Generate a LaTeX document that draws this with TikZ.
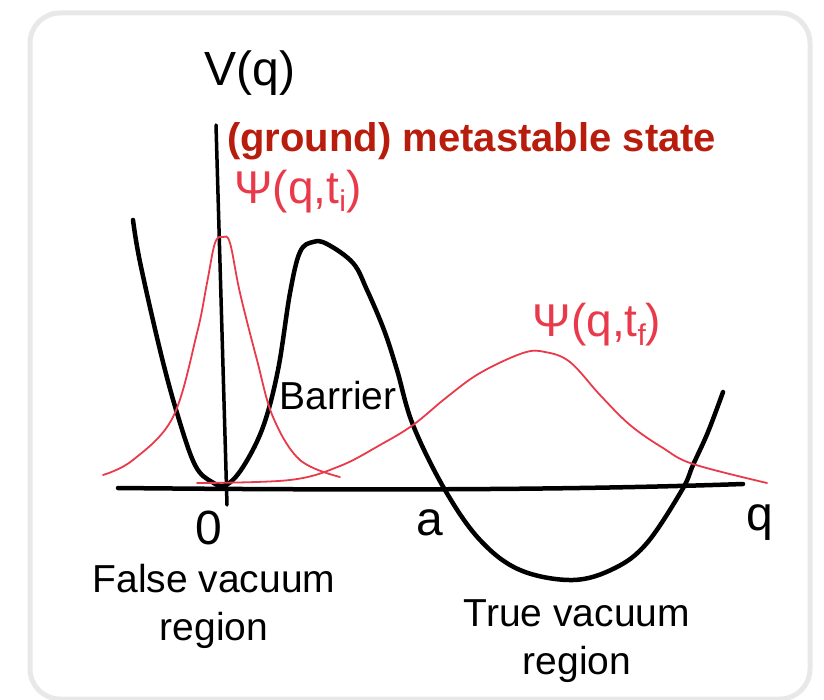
\documentclass[tikz,border=0pt]{standalone}
\usepackage{fontspec}
\setmainfont{Liberation Sans}
\definecolor{labelred}{RGB}{183,28,12}
\definecolor{psired}{RGB}{232,58,74}
\definecolor{framegray}{RGB}{232,232,232}
\begin{document}
\begin{tikzpicture}[x=1pt,y=-1pt,
  hand/.style={font=\fontsize{48}{52}\selectfont, inner sep=0pt},
  psilabel/.style={font=\fontsize{46}{50}\selectfont, text=psired, inner sep=0pt},
  plain/.style={font=\fontsize{39}{48}\selectfont, inner sep=0pt, align=center},
  potential/.style={line width=4.5pt, line cap=round, line join=round},
  wave/.style={psired, line width=1.8pt, line cap=round}]
\useasboundingbox (0,0) rectangle (824,700);
\draw[framegray, line width=5pt, rounded corners=30pt] (30,13) rectangle (810,699);

% axes
\coordinate (xl) at (118,488);
\coordinate (xr) at (743,484);
\coordinate (yt) at (216,125);
\coordinate (yb) at (227,505);
\draw[line width=4.5pt, line cap=round] (xl) .. controls (420,491) and (600,489) .. (xr);
\draw[line width=3.5pt, line cap=round] (yt) -- (yb);

% potential
\draw[potential] plot[smooth, tension=0.6] coordinates {
 (133,220) (140,262) (160,350) (177,413) (195,465) (212,482) (226,485)
 (243,467) (263,427) (278,370) (290,293) (300,252) (313,242) (327,244)
 (353,263) (367,290) (384,330) (397,370) (413,425) (445,490) (480,540)
 (520,570) (573,580) (615,568) (647,543) (682,490) (693,465) (708,432) (723,392)};

% wave functions
\draw[wave] plot[smooth, tension=0.6] coordinates {
 (103,475) (133,460) (173,417) (197,333) (207,283) (215,243) (223,237)
 (230,243) (240,293) (257,360) (273,417) (300,460) (340,477)};
\draw[wave] plot[smooth, tension=0.6] coordinates {
 (197,483) (290,480) (340,466) (380,445) (413,425) (447,397) (480,373)
 (523,353) (545,352) (570,362) (600,395) (630,425) (663,448) (693,464) (767,483)};

% labels
\node[hand] (vq) at (250,73) {V(q)};
\node[font=\bfseries\fontsize{40}{44}\selectfont, text=labelred, inner sep=0pt, anchor=west] (meta) at (227,141) {(ground) metastable state};
\node[psilabel] (psii) at (298,192) {Ψ(q,t\raisebox{-0.3ex}{\fontsize{30}{32}\selectfont i})};
\node[psilabel] (psif) at (597,325) {Ψ(q,t\raisebox{-0.35ex}{\fontsize{30}{32}\selectfont f})};
\node[plain] (barrier) at (338,396) {Barrier};
\node[hand] (zero) at (209,528) {0};
\node[hand] (alab) at (430,523) {a};
\node[hand] (qlab) at (760,523) {q};
\node[plain] (falsev) at (214,606) {False vacuum\\region};
\node[plain] (truev) at (577,641) {True vacuum\\region};
\end{tikzpicture}
\end{document}
